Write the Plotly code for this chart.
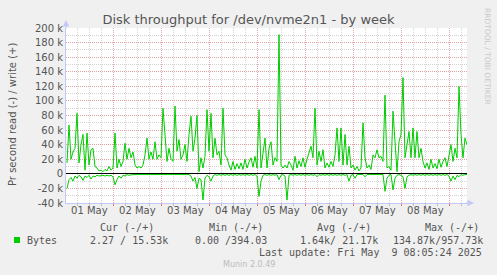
import plotly.graph_objects as go
import pandas as pd

# ---------------- data (k bytes / s, hourly samples) ----------------
write_k = [
    15, 67, 20, 30, 35, 83, 15, 40, 54, 5,
    56, 12, 33, 35, 10, 8, 4, 5, 3, 6,
    4, 10, 5, 8, 56, 8, 20, 10, 17, 42,
    20, 35, 22, 30, 12, 8, 10, 8, 12, 26,
    49, 20, 30, 20, 44, 20, 26, 22, 90, 49,
    17, 35, 20, 17, 93, 31, 47, 20, 26, 40,
    17, 54, 79, 31, 49, 80, 3, 22, 8, 24,
    88, 31, 83, 22, 49, 26, 31, 12, 90, 26,
    22, 12, 5, 17, 6, 14, 7, 15, 6, 20,
    8, 16, 22, 9, 24, 8, 88, 8, 26, 49,
    8, 35, 44, 12, 22, 17, 191, 12, 8, 12,
    8, 17, 12, 5, 24, 8, 18, 10, 22, 9,
    20, 31, 38, 22, 90, 12, 31, 17, 33, 8,
    15, 9, 17, 10, 26, 63, 17, 63, 12, 54,
    12, 38, 8, 12, 5, 10, 4, 8, 70, 22,
    8, 12, 6, 26, 22, 33, 22, 24, 17, 108,
    8, 10, 5, 86, 44, 3, 44, 54, 132, 22,
    40, 58, 22, 63, 22, 58, 22, 35, 17, 8,
    15, 6, 20, 8, 14, 7, 20, 9, 17, 22,
    10, 26, 40, 17, 35, 22, 120, 54, 22, 49,
    40,
]
read_k = [
    -20, -8, -5, -10, -3, -6, -2, -4, -9, -3,
    -5, -2, -7, -3, -4, -2, -3, -2, -2, -3,
    -2, -3, -2, -4, -15, -8, -3, -6, -2, -3,
    -1, -2, -1, -1, -1, -1, -1, -2, -1, -2,
    -1, -1, -2, -1, -2, -1, -1, -2, -1, -1,
    -2, -1, -2, -1, -1, -2, -1, -2, -1, -1,
    -2, -1, -3, -10, -5, -20, -6, -8, -36, -6,
    -2, -4, -10, -3, -1, -2, -1, -2, -1, -2,
    -1, -2, -1, -2, -1, -2, -1, -2, -1, -2,
    -1, -2, -1, -2, -1, -3, -31, -10, -2, -1,
    -2, -1, -2, -1, -2, -1, -8, -2, -1, -3,
    -36, -2, -1, -2, -1, -2, -1, -2, -1, -2,
    -1, -2, -1, -2, -1, -4, -1, -2, -1, -2,
    -1, -2, -1, -2, -1, -2, -1, -2, -1, -2,
    -1, -10, -2, -1, -6, -1, -1, -1, -1, -4,
    -1, -1, -1, -1, -1, -1, -1, -1, -1, -24,
    -6, -2, -1, -22, -6, -2, -1, -2, -4, -20,
    -4, -2, -1, -2, -1, -2, -1, -2, -1, -2,
    -1, -2, -1, -2, -1, -2, -1, -2, -1, -2,
    -1, -3, -10, -3, -8, -2, -4, -1, -2, -1,
    -1,
]
first_sample = "2025-05-01 00:51"
day_labels = ["01 May", "02 May", "03 May", "04 May", "05 May", "06 May", "07 May", "08 May"]
ytick_vals = [-40000, -20000, 0, 20000, 40000, 60000, 80000, 100000, 120000,
              140000, 160000, 180000, 200000]
ytick_text = ["-40 k", "-20 k", "0", "20 k", "40 k", "60 k", "80 k", "100 k", "120 k",
              "140 k", "160 k", "180 k", "200 k"]
legend_head = ["Cur (-/+)", "Min (-/+)", "Avg (-/+)", "Max (-/+)"]
legend_vals = ["2.27 / 15.53k", "0.00 /394.03", "1.64k/ 21.17k", "134.87k/957.73k"]
series_name = "Bytes"
last_update = "Last update: Fri May\u00a0\u00a09 08:05:24 2025"

# ---------------- geometry ----------------
W, H = 497, 275
L, R, T, B = 66, 30, 28, 72
PW, PH = W - L - R, H - T - B


def pxx(x):
    return (x - L) / PW


def pxy(y):
    return (H - B - y) / PH


times = pd.date_range(first_sample, periods=len(write_k), freq="h")
x_start = pd.Timestamp("2025-05-01 00:21")
x_end = x_start + pd.Timedelta(hours=PW / 2)
midnights = pd.date_range("2025-05-02", "2025-05-09", freq="D")
noons = pd.date_range("2025-05-01 12:00", periods=len(day_labels), freq="D")

GREEN = "#00cc00"
MAJOR = "rgba(230,130,130,0.6)"
MINOR = "rgba(170,170,170,0.5)"
AXIS = "#c4c8f4"
TXT = "#555555"
DASH = "1px,1px"
FONT = "DejaVu Sans"
MONO = "DejaVu Sans Mono"

fig = go.Figure()
fig.add_trace(go.Scatter(x=times, y=[v * 1000 for v in write_k], mode="lines",
                         line=dict(color=GREEN, width=1), hoverinfo="skip",
                         xaxis="x", yaxis="y", showlegend=False))
fig.add_trace(go.Scatter(x=times, y=[v * 1000 for v in read_k], mode="lines",
                         line=dict(color=GREEN, width=1), hoverinfo="skip",
                         xaxis="x2", yaxis="y", showlegend=False))

fig.update_layout(
    width=W, height=H,
    margin=dict(l=L, r=R, t=T, b=B, autoexpand=False),
    paper_bgcolor="#f0f0f0", plot_bgcolor="#ffffff",
    font=dict(family=FONT, size=10, color=TXT),
    title=dict(text="Disk throughput for /dev/nvme2n1 - by week",
               x=0.5, xref="container", xanchor="center",
               y=1 - 19 / H, yref="container", yanchor="middle",
               font=dict(family=FONT, size=13, color=TXT)),
    xaxis=dict(range=[x_start, x_end], type="date",
               tickmode="array", tickvals=midnights, showticklabels=False,
               showgrid=True, gridcolor=MAJOR, griddash=DASH, gridwidth=1,
               ticks="outside", ticklen=2, tickcolor="#e07070",
               showline=True, linecolor=AXIS, linewidth=1, zeroline=False,
               minor=dict(tickmode="linear", dtick=6 * 3600 * 1000, tick0="2025-05-01",
                          showgrid=True, gridcolor=MINOR, griddash=DASH, gridwidth=1,
                          ticks="outside", ticklen=2, tickcolor="#bbbbbb"),
               fixedrange=True),
    xaxis2=dict(range=[x_start, x_end], type="date", overlaying="x", anchor="y", side="bottom",
                tickmode="array", tickvals=noons, ticktext=day_labels,
                showgrid=False, ticks="", showline=False, zeroline=False,
                tickfont=dict(family=FONT, size=10, color=TXT), fixedrange=True),
    yaxis=dict(range=[-40000, 200000], tickmode="array", tickvals=ytick_vals, ticktext=ytick_text,
               showgrid=True, gridcolor=MAJOR, griddash=DASH, gridwidth=1,
               minor=dict(tickmode="linear", dtick=10000, tick0=0, showgrid=True,
                          gridcolor=MINOR, griddash=DASH, gridwidth=1),
               zeroline=True, zerolinecolor="#000000", zerolinewidth=1.2,
               showline=True, linecolor=AXIS, linewidth=1, ticks="",
               tickfont=dict(family=FONT, size=10, color=TXT), fixedrange=True),
)

ann = []
# y-axis title
ann.append(dict(text="Pr second read (-) / write (+)", textangle=-90, showarrow=False,
                xref="paper", yref="paper", x=pxx(12), y=pxy(115),
                xanchor="center", yanchor="middle",
                font=dict(family=FONT, size=10, color=TXT)))
# rrdtool credit
ann.append(dict(text="RRDTOOL / TOBI OETIKER", textangle=90, showarrow=False,
                xref="paper", yref="paper", x=pxx(488), y=pxy(56),
                xanchor="center", yanchor="middle",
                font=dict(family=FONT, size=7.5, color="#c8c8c8")))
# legend header
for txt, xl in zip(legend_head, [98, 207, 315, 423]):
    ann.append(dict(text=txt, showarrow=False, xref="paper", yref="paper",
                    x=pxx(xl), y=pxy(227), xanchor="left", yanchor="middle",
                    font=dict(family=MONO, size=10, color=TXT)))
ann.append(dict(text=series_name, showarrow=False, xref="paper", yref="paper",
                x=pxx(25), y=pxy(240), xanchor="left", yanchor="middle",
                font=dict(family=MONO, size=10, color=TXT)))
for txt, xl in zip(legend_vals, [88, 193, 298, 391]):
    ann.append(dict(text=txt.replace(" ", "\u00a0"), showarrow=False, xref="paper", yref="paper",
                    x=pxx(xl), y=pxy(240), xanchor="left", yanchor="middle",
                    font=dict(family=MONO, size=10, color=TXT)))
ann.append(dict(text=last_update, showarrow=False, xref="paper", yref="paper",
                x=pxx(484), y=pxy(252), xanchor="right", yanchor="middle",
                font=dict(family=MONO, size=10, color=TXT)))
ann.append(dict(text="Munin 2.0.49", showarrow=False, xref="paper", yref="paper",
                x=pxx(249), y=pxy(264), xanchor="center", yanchor="middle",
                font=dict(family=FONT, size=8, color="#bbbbbb")))
# axis arrows
ann.append(dict(text="", showarrow=True, xref="paper", yref="paper",
                x=pxx(66), y=pxy(20), ax=0, ay=10, arrowhead=2, arrowsize=1.3,
                arrowwidth=1, arrowcolor=AXIS))
ann.append(dict(text="", showarrow=True, xref="paper", yref="paper",
                x=pxx(474), y=pxy(203), ax=-10, ay=0, arrowhead=2, arrowsize=1.3,
                arrowwidth=1, arrowcolor=AXIS))
fig.update_layout(annotations=ann)

fig.add_shape(type="rect", xref="paper", yref="paper",
              x0=pxx(14), x1=pxx(20), y0=pxy(243), y1=pxy(237),
              line=dict(width=0), fillcolor=GREEN)

fig.write_html("out.html")
